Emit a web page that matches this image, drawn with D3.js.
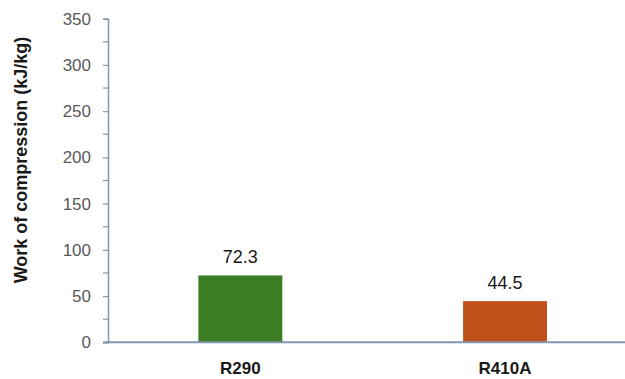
<!DOCTYPE html>
<html>
<head>
<meta charset="utf-8">
<script src="https://cdn.jsdelivr.net/npm/d3@7"></script>
<style>
  html, body { margin: 0; padding: 0; background: #fff; }
  svg { display: block; font-family: "Liberation Sans", Arial, sans-serif; }
</style>
</head>
<body>
<svg id="chart" width="625" height="379"></svg>
<script>
// Refrigerants and their work of compression (kJ/kg)
const refrigerants = ["R290", "R410A"];
const workValues = [72.3, 44.5];
const barColors = ["#3b7d23", "#c05019"];
const yMajorTicks = [0, 50, 100, 150, 200, 250, 300, 350];
const yMinorTicks = [25, 75, 125, 175, 225, 275, 325];
const yTitle = "Work of compression (kJ/kg)";

const svg = d3.select("#chart");
const W = 625, H = 379;
const left = 108;
const axisColor = "#8497b0";

const x = d3.scaleBand()
  .domain(refrigerants)
  .range([left, 637.4])
  .padding(0);

const y = d3.scaleLinear()
  .domain([0, 350])
  .range([342.3, 18.7]);

// Bars
const barW = x.bandwidth() * 0.317;
svg.selectAll("rect.bar")
  .data(refrigerants)
  .join("rect")
  .attr("class", "bar")
  .attr("x", d => x(d) + x.bandwidth() / 2 - barW / 2)
  .attr("width", barW)
  .attr("y", (d, i) => y(workValues[i]))
  .attr("height", (d, i) => y(0) - y(workValues[i]))
  .attr("fill", (d, i) => barColors[i]);

// Value labels
svg.selectAll("text.val")
  .data(refrigerants)
  .join("text")
  .attr("class", "val")
  .attr("x", d => x(d) + x.bandwidth() / 2)
  .attr("y", (d, i) => y(workValues[i]) - 12)
  .attr("text-anchor", "middle")
  .attr("font-size", 18)
  .attr("fill", "#1a1a1a")
  .text((d, i) => workValues[i]);

// Y axis
const yAxis = d3.axisLeft(y)
  .tickValues(yMajorTicks)
  .tickSize(5)
  .tickPadding(12);
const gy = svg.append("g")
  .attr("transform", `translate(${left},0)`)
  .call(yAxis);
gy.select(".domain").attr("stroke", axisColor).attr("stroke-width", 1.5);
gy.selectAll(".tick line").attr("stroke", axisColor).attr("stroke-width", 1.2);
gy.selectAll(".tick text")
  .attr("font-size", 17)
  .attr("fill", "#595959")
  .attr("font-family", "Liberation Sans, Arial, sans-serif");

// Minor ticks
svg.append("g")
  .selectAll("line")
  .data(yMinorTicks)
  .join("line")
  .attr("x1", left - 5)
  .attr("x2", left)
  .attr("y1", d => y(d))
  .attr("y2", d => y(d))
  .attr("stroke", axisColor)
  .attr("stroke-width", 1.2);

// X axis
const xAxis = d3.axisBottom(x).tickSize(0).tickPadding(20);
const gx = svg.append("g")
  .attr("transform", `translate(0,${y(0)})`)
  .call(xAxis);
gx.select(".domain").remove();
gx.append("line")
  .attr("x1", left - 5)
  .attr("x2", W)
  .attr("y1", 0)
  .attr("y2", 0)
  .attr("stroke", axisColor)
  .attr("stroke-width", 2);
gx.selectAll(".tick text")
  .attr("font-size", 17)
  .attr("font-weight", "bold")
  .attr("fill", "#1a1a1a")
  .attr("font-family", "Liberation Sans, Arial, sans-serif");

// Y title
svg.append("text")
  .attr("transform", `translate(27,160) rotate(-90)`)
  .attr("text-anchor", "middle")
  .attr("font-size", 18)
  .attr("font-weight", "bold")
  .attr("fill", "#1a1a1a")
  .text(yTitle);
</script>
</body>
</html>
